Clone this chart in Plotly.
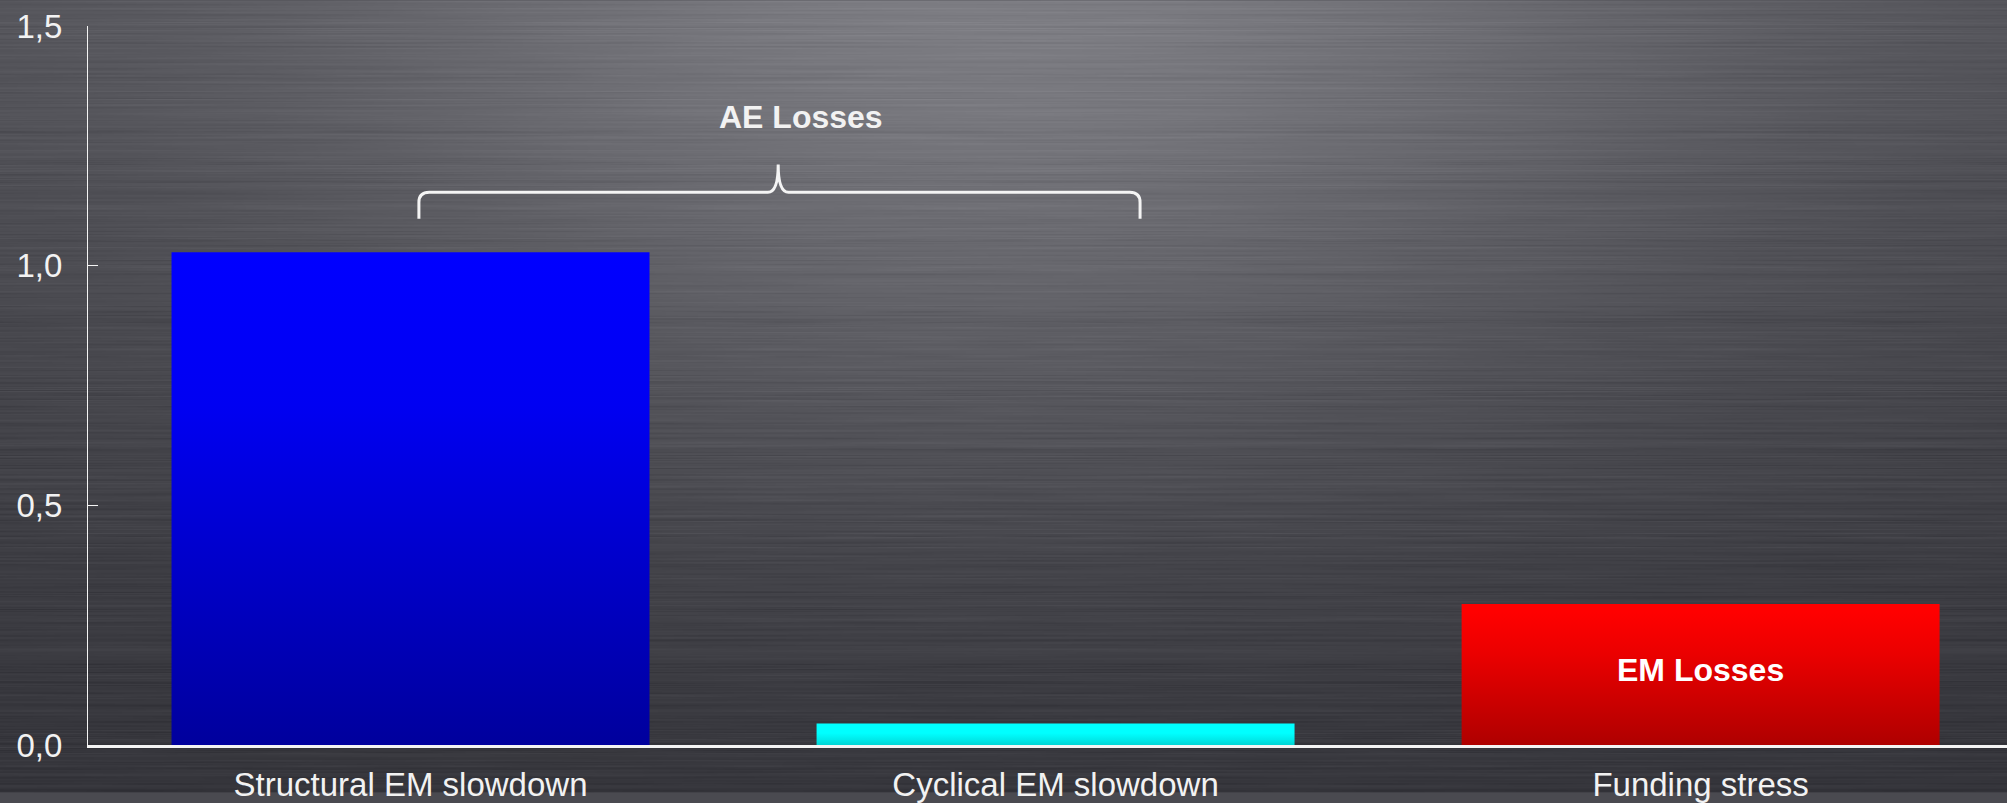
import base64
import struct
import zlib

import numpy as np
import plotly.graph_objects as go

# ---- data -------------------------------------------------------------
categories = ["Structural EM slowdown", "Cyclical EM slowdown", "Funding stress"]
values = [1.028, 0.045, 0.294]
# gradient per bar: (bottom colour, mid colour, top colour)
bar_gradients = [
    ("#00009A", "#0000F2", "#0000FF"),
    ("#00AEAE", "#00EAEA", "#00FFFF"),
    ("#A80000", "#EA0000", "#FF0000"),
]
y_ticks = [0.0, 0.5, 1.0, 1.5]

# ---- geometry / style -------------------------------------------------
W, H = 2007, 803
M_L, M_R, M_T, M_B = 88, 0, 26, 48
BAR_FRAC = 0.741
X_RANGE = [-0.5, 2.475]
FONT = "Liberation Sans, Arial, sans-serif"
TXT = "#f2f2f2"


def brushed_metal(w, h):
    """Dark brushed-steel backdrop with a soft highlight near the top centre."""
    xs = np.linspace(0, W, w)[None, :]
    ys = np.linspace(0, H, h)[:, None]
    v = (53 + 27 * (1 - ys / H)
         + 46 * np.exp(-((xs - 1000) / 720) ** 2 - (ys / 460) ** 2))
    rows = np.arange(h, dtype=float)[:, None]

    def hsh(a, k):
        return np.modf(np.abs(np.sin(a * 12.9898 + k) * 43758.5453))[0]

    amp = hsh(rows, 1.7) - 0.5
    period = 120 + 400 * hsh(rows, 3.1)
    phase = 6.283 * hsh(rows, 5.3)
    mod = 0.55 + 0.45 * np.sin(2 * np.pi * xs / period + phase)
    fine = (hsh(rows, 9.9) - 0.5) * 0.5
    v = v + 17 * amp * mod + 6 * fine
    rgb = np.stack([v, v, v + 6], axis=-1)
    return np.clip(rgb, 0, 255).astype(np.uint8)


def png_data_uri(arr):
    h, w, _ = arr.shape
    raw = np.concatenate([np.zeros((h, 1), np.uint8), arr.reshape(h, w * 3)], axis=1).tobytes()

    def chunk(tag, data):
        body = tag + data
        return struct.pack(">I", len(data)) + body + struct.pack(">I", zlib.crc32(body) & 0xFFFFFFFF)

    png = (b"\x89PNG\r\n\x1a\n"
           + chunk(b"IHDR", struct.pack(">IIBBBBB", w, h, 8, 2, 0, 0, 0))
           + chunk(b"IDAT", zlib.compress(raw, 9))
           + chunk(b"IEND", b""))
    return "data:image/png;base64," + base64.b64encode(png).decode()


fig = go.Figure()

# bars drawn as filled rectangles so each can carry a vertical gradient
half = BAR_FRAC / 2
for i, (val, grad) in enumerate(zip(values, bar_gradients)):
    fig.add_trace(go.Scatter(
        x=[i - half, i - half, i + half, i + half, i - half],
        y=[0, val, val, 0, 0],
        mode="lines",
        fill="toself",
        line=dict(width=0, color=grad[2]),
        fillgradient=dict(
            type="vertical",
            start=0,
            stop=val,
            colorscale=[[0, grad[0]], [0.7, grad[1]], [1, grad[2]]],
        ),
        hoverinfo="skip",
        showlegend=False,
        name=categories[i],
    ))

plot_w = W - M_L - M_R
plot_h = H - M_T - M_B

fig.add_layout_image(
    source=png_data_uri(brushed_metal(502, H)),
    xref="paper", yref="paper",
    x=-M_L / plot_w, y=1 + M_T / plot_h,
    sizex=W / plot_w, sizey=H / plot_h,
    xanchor="left", yanchor="top",
    sizing="stretch", layer="below",
)

# curly brace over the first two scenarios
L, R, C = 0.013, 1.131, 0.57
yb, ym, yt = 1.098, 1.153, 1.211
dx, dy = 0.016, 0.021
brace = (f"M {L},{yb} L {L},{ym - dy} Q {L},{ym} {L + dx},{ym} "
         f"L {C - dx},{ym} Q {C},{ym} {C},{yt} Q {C},{ym} {C + dx},{ym} "
         f"L {R - dx},{ym} Q {R},{ym} {R},{ym - dy} L {R},{yb}")
fig.add_shape(type="path", path=brace, xref="x", yref="y",
              line=dict(color="#f4f4f4", width=3))

fig.add_annotation(x=0.605, y=1.31, xref="x", yref="y", text="<b>AE Losses</b>",
                   showarrow=False, font=dict(family=FONT, size=32, color=TXT))
fig.add_annotation(x=2, y=0.156, xref="x", yref="y", text="<b>EM Losses</b>",
                   showarrow=False, font=dict(family=FONT, size=32, color="#ffffff"))

fig.update_layout(
    width=W, height=H,
    margin=dict(l=M_L, r=M_R, t=M_T, b=M_B, pad=0),
    paper_bgcolor="#4a4a50",
    plot_bgcolor="rgba(0,0,0,0)",
    separators=",.",
    showlegend=False,
    xaxis=dict(
        range=X_RANGE,
        tickvals=list(range(len(categories))),
        ticktext=categories,
        showgrid=False, zeroline=False,
        showline=True, linecolor="#f4f4f4", linewidth=3,
        ticks="", ticklabelstandoff=8,
        tickfont=dict(family=FONT, size=33, color=TXT),
        fixedrange=True,
    ),
    yaxis=dict(
        range=[0, 1.5],
        tickvals=y_ticks,
        tickformat=".1f",
        showgrid=False, zeroline=False,
        showline=True, linecolor="#f4f4f4", linewidth=1,
        ticks="inside", ticklen=10, tickwidth=1, tickcolor="#f4f4f4",
        ticklabelstandoff=18,
        tickfont=dict(family=FONT, size=33, color=TXT),
        fixedrange=True,
    ),
)

fig.write_html("out.html")
